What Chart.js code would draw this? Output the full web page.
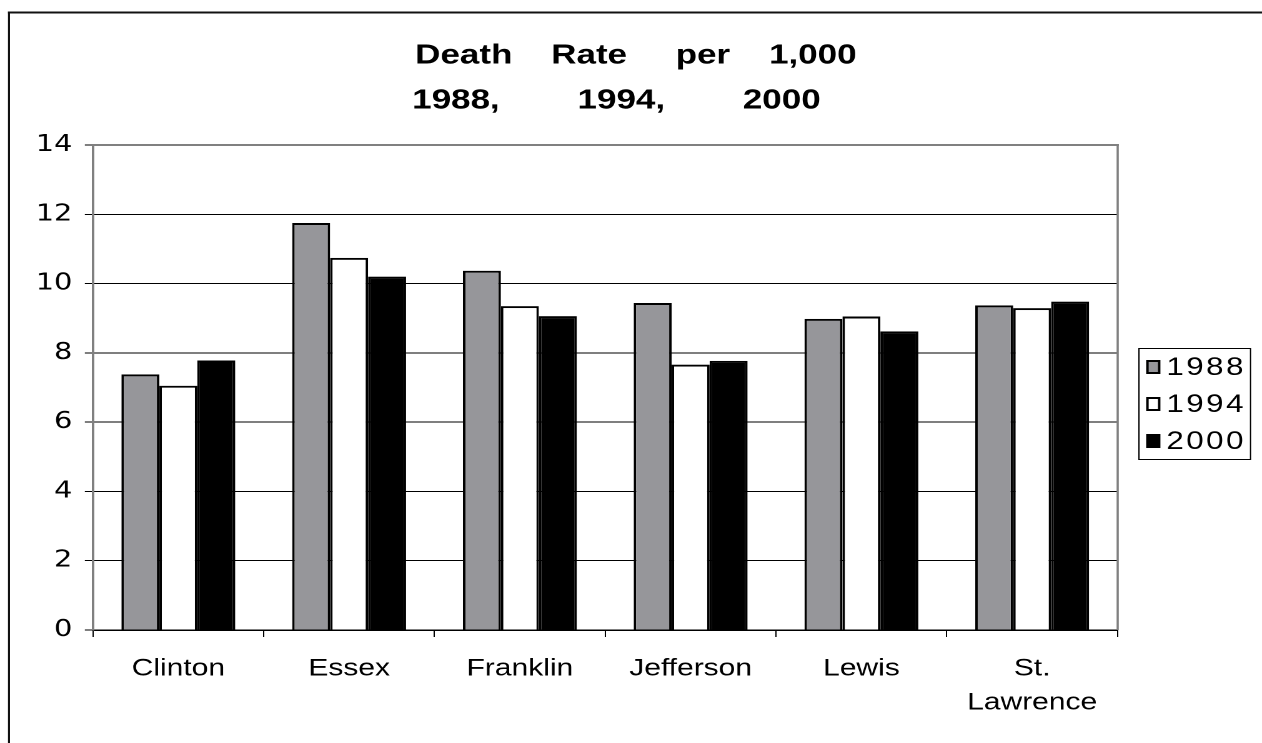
<!DOCTYPE html>
<html>
<head>
<meta charset="utf-8">
<script src="https://cdn.jsdelivr.net/npm/chart.js@4.4.1/dist/chart.umd.min.js"></script>
<style>
html,body{margin:0;padding:0;background:#fff;overflow:hidden;}
/* the source picture is stretched sideways, so the chart is drawn narrow and widened */
#wrap{width:1010px;height:743px;transform:scaleX(1.2495);transform-origin:0 0;}
</style>
</head>
<body>
<div id="wrap"><canvas id="chart"></canvas></div>
<script>
const counties = ['Clinton', 'Essex', 'Franklin', 'Jefferson', 'Lewis', ['St.', 'Lawrence']];
const years = ['1988', '1994', '2000'];
const rate1988 = [7.38, 11.75, 10.37, 9.44, 8.98, 9.37];
const rate1994 = [7.05, 10.74, 9.35, 7.66, 9.05, 9.29];
const rate2000 = [7.78, 10.20, 9.06, 7.77, 8.62, 9.48];
const yTicks = [0, 2, 4, 6, 8, 10, 12, 14];

const FONT = '"Liberation Sans", Arial, sans-serif';
const WIDE = '"DejaVu Sans", "Liberation Sans", sans-serif';

// page border, plot frame and boxed legend
const extras = {
  id: 'extras',
  beforeDraw(chart){
    const ctx = chart.ctx;
    ctx.save();
    ctx.fillStyle = '#fff';
    ctx.fillRect(0, 0, chart.width, chart.height);
    ctx.fillStyle = '#111';
    ctx.fillRect(6.4, 11.5, chart.width, 2);
    ctx.fillRect(6.4, 11.5, 1.6, chart.height);
    ctx.restore();
  },
  afterDraw(chart){
    const ctx = chart.ctx;
    const a = chart.chartArea;
    ctx.save();
    ctx.fillStyle = '#808080';
    ctx.fillRect(a.left, a.top - 1, a.right - a.left + 1, 2);
    ctx.fillRect(a.right - 0.8, a.top - 1, 1.8, a.bottom - a.top + 1);

    // legend
    ctx.strokeStyle = '#000';
    ctx.lineWidth = 1;
    ctx.strokeRect(911.5, 348.5, 89.3, 111);
    ctx.font = '25px ' + FONT;
    ctx.textBaseline = 'middle';
    ctx.textAlign = 'left';
    if ('letterSpacing' in ctx) ctx.letterSpacing = '2px';
    chart.data.datasets.forEach((ds, i) => {
      const cy = 367 + i * 37;
      ctx.fillStyle = ds.backgroundColor;
      ctx.fillRect(917.5, cy - 7, 11, 14);
      ctx.strokeStyle = '#000';
      ctx.lineWidth = 2;
      ctx.strokeRect(918.3, cy - 6, 9.4, 12);
      ctx.fillStyle = '#000';
      ctx.fillText(ds.label, 933.5, cy + 1);
    });
    ctx.restore();
  }
};

new Chart(document.getElementById('chart'), {
  type: 'bar',
  data: {
    labels: counties,
    datasets: [
      { label: years[0], data: rate1988, backgroundColor: '#96969a', borderColor: '#000', borderWidth: 2 },
      { label: years[1], data: rate1994, backgroundColor: '#ffffff', borderColor: '#000', borderWidth: 2 },
      { label: years[2], data: rate2000, backgroundColor: '#000000', borderColor: '#000', borderWidth: 2 }
    ]
  },
  options: {
    responsive: true,
    maintainAspectRatio: false,
    animation: false,
    devicePixelRatio: 2,
    layout: { padding: 0 },
    datasets: { bar: { categoryPercentage: 0.667, barPercentage: 1.0, borderSkipped: 'start' } },
    plugins: {
      legend: { display: false },
      tooltip: { enabled: false },
      title: {
        display: true,
        text: [' Death    Rate     per    1,000', '1988,        1994,        2000   '],
        color: '#000',
        font: { family: FONT, size: 28, weight: 'bold', lineHeight: 1.6 },
        padding: { top: 33.5, bottom: 21.9 }
      }
    },
    scales: {
      x: {
        grid: { display: true, drawOnChartArea: false, drawTicks: true, tickLength: 7, color: '#000', offset: true },
        border: { display: true, color: '#000', width: 1.5 },
        ticks: { color: '#000', font: { family: FONT, size: 24, lineHeight: 1.42 }, padding: 15, maxRotation: 0, autoSkip: false },
        afterFit(scale){ scale.height = 113; }
      },
      y: {
        min: 0,
        max: 14,
        afterBuildTicks(scale){ scale.ticks = yTicks.map(v => ({ value: v })); },
        grid: { color: '#000', lineWidth: 1, drawTicks: true, tickLength: 6.5 },
        border: { display: true, color: '#808080', width: 2 },
        ticks: { color: '#000', font: { family: WIDE, size: 23 }, padding: 10 },
        afterFit(scale){ scale.width = 74.4; }
      },
      // empty right-hand axis that keeps room for the legend
      legendRoom: {
        position: 'right',
        grid: { display: false, drawTicks: false },
        border: { display: false },
        ticks: { display: false },
        afterFit(scale){ scale.width = 115.6; }
      }
    }
  },
  plugins: [extras]
});
</script>
</body>
</html>
